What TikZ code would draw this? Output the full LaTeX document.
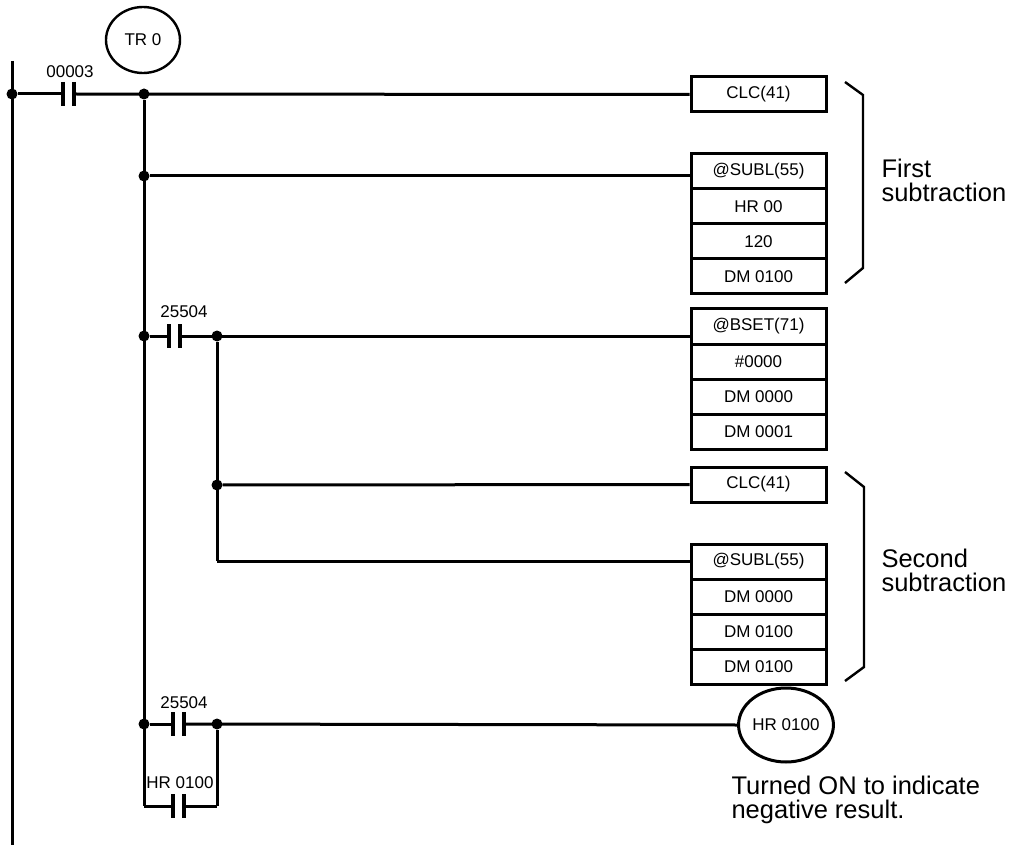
\documentclass[tikz,border=0pt]{standalone}
\usepackage{fontspec}
\setmainfont{Liberation Sans}
\usetikzlibrary{shapes.geometric}
\tikzset{
  wire/.style={line width=3pt},
  cell/.style={draw,line width=3pt,minimum width=135pt,minimum height=35pt,inner sep=0pt,font=\fontsize{17}{17}\selectfont},
  coil/.style={draw,ellipse,line width=3pt,minimum width=80pt,minimum height=74pt,inner sep=0pt,font=\fontsize{17}{17}\selectfont},
  jdot/.style={circle,fill,inner sep=0pt,minimum size=11pt},
  lbl/.style={font=\fontsize{17}{17}\selectfont},
  note/.style={align=left,anchor=west,font=\fontsize{25.5}{24}\selectfont}
}
% contact: #1 = left plate x, #2 = rung y
\newcommand{\contact}[2]{%
  \draw[line width=3.4pt] (#1,#2-12) -- (#1,#2+12);
  \draw[line width=3.4pt] (#1+11,#2-12) -- (#1+11,#2+12);}
\begin{document}
\begin{tikzpicture}[x=1pt,y=-1pt]
  \useasboundingbox (0,0) rectangle (1010,845);
  % rail and junctions
  \node[jdot] (r1) at (12,94) {};
  \node[jdot] (a1) at (144,94) {};
  \node[jdot] (a2) at (144,176) {};
  \node[jdot] (a3) at (144,336) {};
  \node[jdot] (b3) at (217,336) {};
  \node[jdot] (b4) at (217,485) {};
  \coordinate (b5) at (217,561);
  \node[jdot] (a6) at (144,724) {};
  \node[jdot] (b6) at (217,724) {};
  \coordinate (a7) at (144,806);
  \coordinate (b7) at (217,806);
  \coordinate (top) at (12,61);
  \coordinate (bot) at (12,845);
  \draw[wire] (top) -- (bot);
  \draw[wire] (a1) -- (a7);
  \draw[wire] (b3) -- (b5);
  \draw[wire] (b6) -- (b7);
  \node[draw,ellipse,line width=2.4pt,minimum width=74pt,minimum height=66pt,lbl] (tr) at (143,40) {TR 0};
  % instruction blocks
  \node[cell] (clcA) at (758.5,94.5) {CLC(41)};
  \foreach \t [count=\i from 0] in {@SUBL(55),HR 00,120,DM 0100}
    \node[cell] (sublA-\i) at (758.5,171.5+35*\i) {\t};
  \foreach \t [count=\i from 0] in {@BSET(71),\#0000,DM 0000,DM 0001}
    \node[cell] (bset-\i) at (758.5,326.5+35*\i) {\t};
  \node[cell] (clcB) at (758.5,484.5) {CLC(41)};
  \foreach \t [count=\i from 0] in {@SUBL(55),DM 0000,DM 0100,DM 0100}
    \node[cell] (sublB-\i) at (758.5,561.5+35*\i) {\t};
  \node[coil] (hr) at (786,725) {HR 0100};
  % rungs
  \contact{63}{94}
  \node[lbl] (c1) at (70,72) {00003};
  \draw[wire] (r1) -- (63,94);
  \draw[wire] (74,94) -- (clcA.west);
  \draw[wire] (a2) -- (sublA-0.west |- a2);
  \contact{169}{336}
  \node[lbl] (c3) at (184,312) {25504};
  \draw[wire] (a3) -- (169,336);
  \draw[wire] (180,336) -- (bset-0.west |- b3);
  \draw[wire] (b4) -- (clcB.west);
  \draw[wire] (b5) -- (sublB-0.west |- b5);
  \contact{173}{724}
  \node[lbl] (c6) at (184,703) {25504};
  \draw[wire] (a6) -- (173,724);
  \draw[wire] (184,724) -- (hr.west);
  \contact{173}{806}
  \node[lbl] (c7) at (180,783) {HR 0100};
  \draw[wire] (a7) -- (173,806);
  \draw[wire] (184,806) -- (b7);
  % brackets
  \draw[line width=2.4pt] (845,82) -- (863,95) -- (863,268) -- (845,283);
  \draw[line width=2.4pt] (845,472) -- (864,487) -- (864,667) -- (845,681);
  \node[note] (n1) at (878,180) {First\\subtraction};
  \node[note] (n2) at (878,570) {Second\\subtraction};
  \node[note] (n3) at (728,800) {Turned ON to indicate\\negative result.};
\end{tikzpicture}
\end{document}
